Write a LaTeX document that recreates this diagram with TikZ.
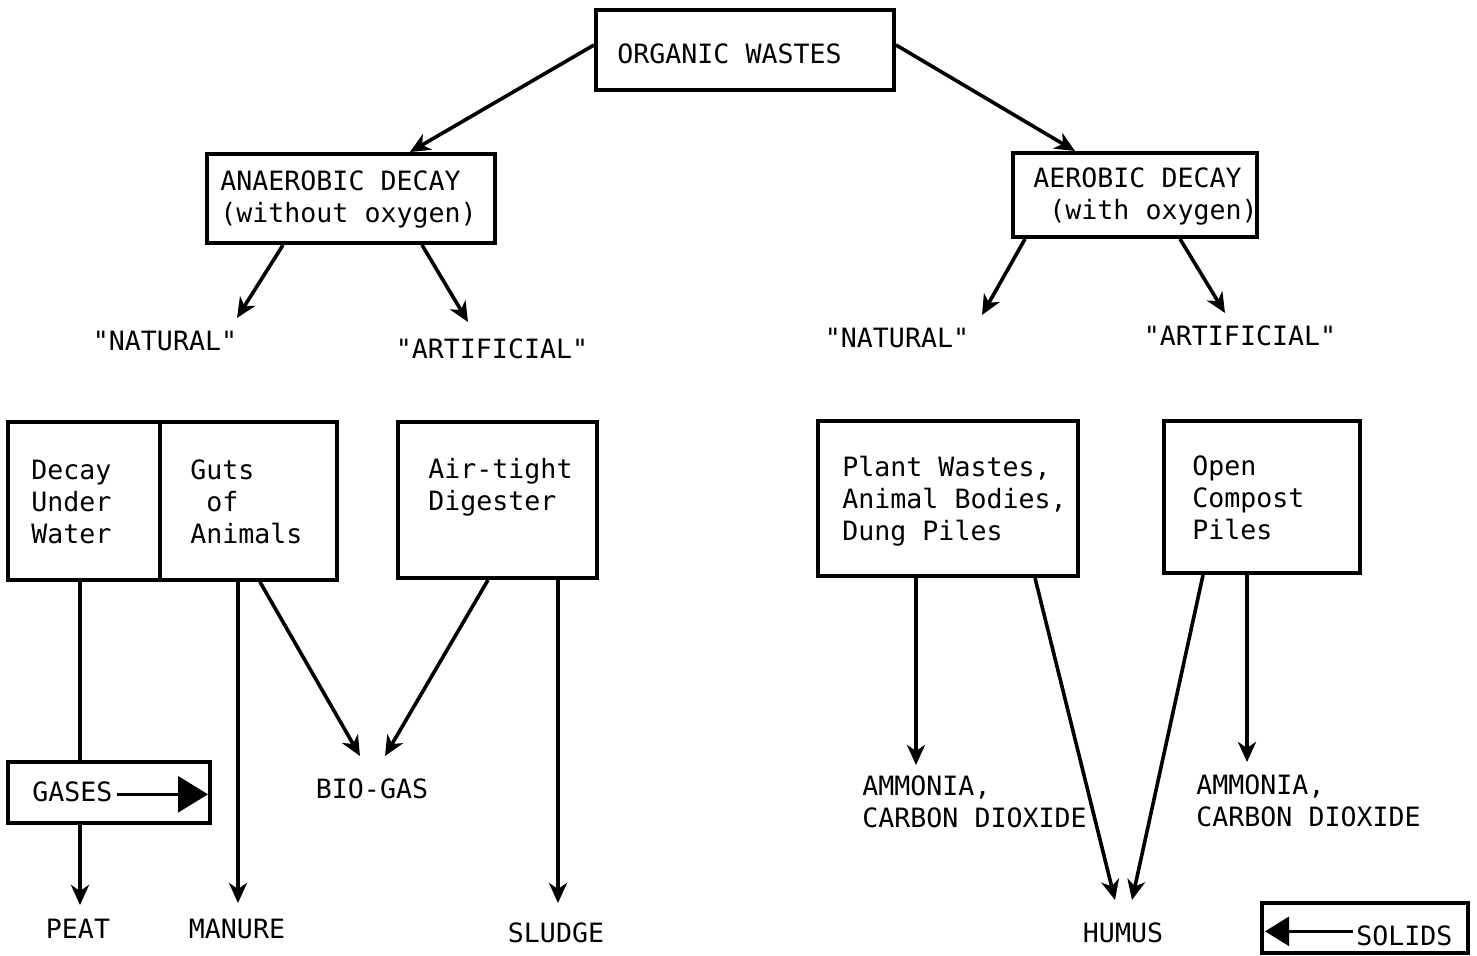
\documentclass[tikz,border=0pt]{standalone}
\usepackage{fontspec}
\setmainfont{DejaVu Sans Mono}[Ligatures=TeXOff]
\usetikzlibrary{calc,arrows.meta}

\begin{document}
\begin{tikzpicture}[x=0.5pt, y=-0.5pt,
		every node/.style={font=\fontsize{13.3}{16}\selectfont, inner sep=0pt},
		box/.style={draw, line width=2pt},
		lbl/.style={anchor=base},
		txt/.style={anchor=base west, align=left},
		arr/.style={line width=1.8pt, -{Stealth[length=10pt, width=9pt, inset=3pt]}},
		flow/.style={line width=1.5pt, -{Triangle[length=#1, width=#1*1.2]}}]
			%%%%% START %%%%%
			\useasboundingbox (0, 0) rectangle (1477, 956);
			
			\node[box, minimum width=149pt, minimum height=40pt] (orgw) at (745, 50) {};
			\node[txt] (orgwt) at (617, 64) {ORGANIC WASTES};
			
			\node[box, minimum width=144pt, minimum height=44.5pt] (anaer) at (351, 198.5) {};
			\node[txt] (anaert) at (220, 223) {ANAEROBIC DECAY\\(without oxygen)};
			\node[box, minimum width=122pt, minimum height=42pt] (aer) at (1135, 195) {};
			\node[txt] (aert) at (1033, 220) {AEROBIC DECAY\\\ (with oxygen)};
			
			\node[lbl] (natL) at (165, 351) {"NATURAL"};
			\node[lbl] (artL) at (492, 359) {"ARTIFICIAL"};
			\node[lbl] (natR) at (897, 348) {"NATURAL"};
			\node[lbl] (artR) at (1240, 346) {"ARTIFICIAL"};
			
			\node[box, minimum width=76pt, minimum height=79pt] (dec) at (84, 501) {};
			\node[txt] at (31, 544) {Decay\\Under\\Water};
			\node[box, minimum width=88.5pt, minimum height=79pt] (guts) at (248.5, 501) {};
			\node[txt] at (190, 544) {Guts\\\ of\\Animals};
			\node[box, minimum width=99.5pt, minimum height=78pt] (air) at (497.5, 500) {};
			\node[txt] at (428, 510) {Air-tight\\Digester};
			\node[box, minimum width=130pt, minimum height=77.5pt] (plant) at (948, 498.5) {};
			\node[txt] at (842, 540) {Plant Wastes,\\Animal Bodies,\\Dung Piles};
			\node[box, minimum width=98pt, minimum height=76pt] (opn) at (1262, 497) {};
			\node[txt] at (1192, 539) {Open\\Compost\\Piles};
			
			\node[box, minimum width=101pt, minimum height=30.5pt] (gases) at (109, 792.5) {};
			\node[txt] (gasest) at (32, 801) {GASES};
			\draw[flow=15pt] ($(gasest.east)+(4, 3)$) -- ($(gasest.east -| gases.east)+(-4, 3)$);
			
			\node[lbl] (bio) at (372, 798) {BIO-GAS};
			\node[txt] (amL) at (862, 827) {AMMONIA,\\CARBON DIOXIDE};
			\node[txt] (amR) at (1196, 826) {AMMONIA,\\CARBON DIOXIDE};
			
			\node[lbl] (peat) at (78, 938) {PEAT};
			\node[lbl] (manure) at (237, 938) {MANURE};
			\node[lbl] (sludge) at (556, 942) {SLUDGE};
			\node[lbl] (humus) at (1123, 942) {HUMUS};
			
			\node[box, minimum width=103pt, minimum height=25pt] (solids) at (1365, 928) {};
			\node[txt] (solidst) at (1356, 945) {SOLIDS};
			\draw[flow=12pt] ($(solidst.west)+(-3, -4)$) -- ($(solidst.west -| solids.west)+(5, -4)$);
			
			\draw[arr] ($(orgw.west)+(0, -5)$) -- ($(anaer.north)+(59, 0)$);
			\draw[arr] ($(orgw.east)+(0, -5)$) -- ($(aer.north)+(-60, 0)$);
			
			\draw[arr] ($(anaer.south)+(-68, 0)$) -- ($(natL.base)+(72, -33)$);
			\draw[arr] ($(anaer.south)+(71, 0)$) -- ($(artL.base)+(-24, -37)$);
			\draw[arr] ($(aer.south)+(-110, 0)$) -- ($(natR.base)+(85, -33)$);
			\draw[arr] ($(aer.south)+(45, 0)$) -- ($(artR.base)+(-15, -33)$);
			
			\draw[line width=1.8pt] ($(dec.south)+(-4, 0)$) -- ($(gases.north)+(-29, 0)$);
			\draw[arr] ($(gases.south)+(-29, 0)$) -- ($(peat.base)+(2, -33)$);
			\draw[arr] ($(guts.south)+(-10.5, 0)$) -- ($(manure.base)+(1, -35)$);
			\draw[arr] ($(guts.south)+(11.5, 0)$) -- ($(bio.base)+(-12, -42)$);
			\draw[arr] ($(air.south)+(-9.5, 0)$) -- ($(bio.base)+(13, -42)$);
			\draw[arr] ($(air.south)+(60.5, 0)$) -- ($(sludge.base)+(2, -39)$);
			
			\draw[arr] ($(plant.south)+(-32, 0)$) -- ($(amL.base west)+(54, -62)$);
			\draw[arr] ($(plant.south)+(87, 0)$) -- ($(humus.base)+(-8, -42)$);
			\draw[arr] ($(opn.south)+(-59, 0)$) -- ($(humus.base)+(9, -42)$);
			\draw[arr] ($(opn.south)+(-15, 0)$) -- ($(amR.base west)+(51, -64)$);
			
			%%%%% END %%%%%
		\end{tikzpicture}
\end{document}
